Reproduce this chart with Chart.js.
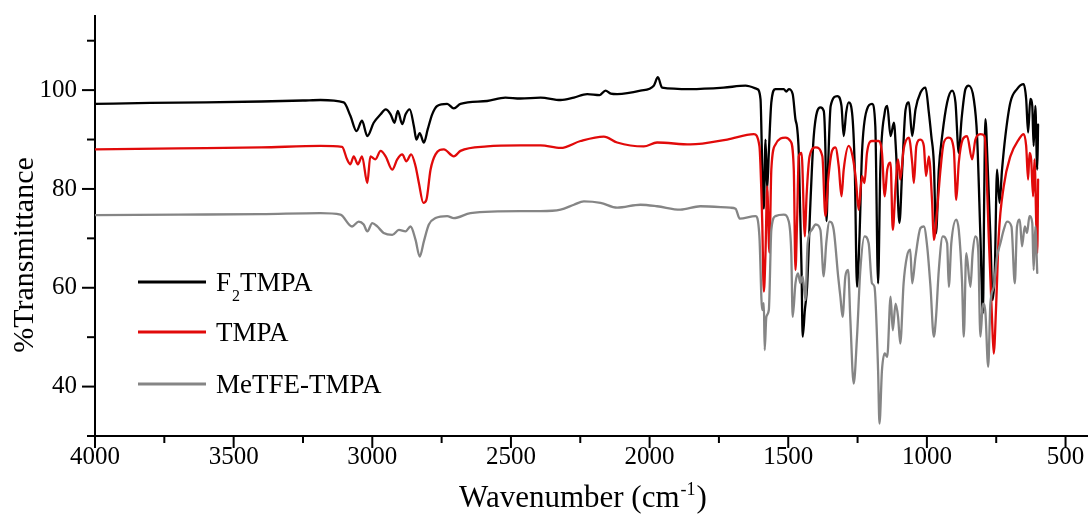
<!DOCTYPE html>
<html><head><meta charset="utf-8">
<script src="https://cdn.jsdelivr.net/npm/chart.js@4/dist/chart.umd.min.js"></script>
<style>html,body{margin:0;padding:0;background:#fff;}</style>
</head><body>
<canvas id="c" width="1088" height="519"></canvas>
<script>
// ---------------- data ----------------
const seriesLabels = ['F₂TMPA', 'TMPA', 'MeTFE-TMPA'];
const seriesColors = ['#000000', '#e10a0a', '#858585'];

const f2Wn = [4000,3800,3600,3400,3250,3187,3103,3079,3057,3037,3018,2995,2970,2952,2934,2920,2908,2892,2880,2865,2850,2841,2829,2814,2800,2784,2766,2730,2706,2682,2586,2520,2466,2393,2321,2273,2225,2180,2159,2140,2117,2033,1985,1970,1955,1853,1733,1654,1612,1600,1594,1588,1582,1576,1570,1561,1546,1516,1507,1498,1484,1474,1468,1462,1452,1448,1440,1432,1420,1408,1384,1372,1366,1362,1356,1347,1323,1308,1300,1291,1282,1270,1260,1252,1243,1234,1216,1198,1186,1176,1168,1152,1143,1131,1119,1111,1099,1089,1077,1065,1053,1041,1023,1005,993,984,975,967,957,945,927,909,897,885,875,861,849,831,819,807,798,793,789,781,771,763,755,747,738,729,717,699,675,651,642,635,627,620,615,609,602,599];
const f2T  = [97.2,97.4,97.5,97.7,97.9,98.0,97.5,94.8,91.7,93.8,90.7,93.4,95.1,96.1,95.1,93.4,95.8,93.1,95.1,96.1,92.7,90.0,91.3,89.4,92.1,95.1,96.8,97.2,96.3,97.2,97.8,98.5,98.3,98.5,98.0,98.5,99.2,99.0,99.9,99.3,99.2,99.9,100.9,102.6,100.5,100.2,100.5,100.9,100.2,98.2,85.0,76.0,90.0,80.0,87.4,97.5,100.2,100.2,99.7,100.2,99.2,94.1,92.4,87.3,63.6,50.1,55.5,60.2,77.2,90.7,96.5,95.8,88.0,73.5,85.0,96.8,98.8,96.8,90.7,95.5,97.5,95.5,83.9,60.2,70.4,87.3,96.1,97.2,92.7,60.9,83.9,95.5,96.8,90.7,93.4,87.3,73.1,83.9,96.0,97.5,90.7,96.1,99.5,100.5,95.5,90.7,85.3,71.0,83.9,90.7,97.5,99.9,97.5,87.3,94.1,100.2,100.9,98.2,90.7,70.4,54.8,80.0,94.1,85.0,70.4,57.5,63.6,83.9,77.2,83.9,90.7,97.5,100.2,101.2,98.2,91.4,98.2,96.8,88.7,96.8,83.9,93.0];

const tmpaWn = [4000,3700,3400,3187,3109,3091,3079,3067,3052,3037,3018,3007,2989,2970,2952,2928,2910,2892,2877,2860,2844,2832,2816,2805,2790,2772,2742,2706,2682,2586,2466,2393,2321,2249,2165,2117,2021,1973,1853,1720,1624,1604,1594,1588,1582,1576,1568,1561,1546,1510,1492,1480,1474,1468,1462,1452,1440,1434,1423,1401,1377,1366,1356,1342,1330,1318,1308,1300,1282,1268,1256,1246,1234,1225,1216,1198,1174,1162,1152,1143,1131,1123,1113,1104,1096,1084,1065,1053,1047,1038,1023,1011,1003,993,981,975,963,951,939,921,903,894,885,871,855,837,825,807,792,783,777,765,759,750,741,723,699,669,651,642,635,630,624,617,612,602,599];
const tmpaT  = [88.0,88.2,88.4,88.7,88.5,86.0,85.0,86.6,85.0,86.6,81.2,86.6,86.0,87.7,86.6,83.9,86.0,87.0,85.6,87.0,84.6,81.2,77.2,77.8,83.9,87.0,88.0,86.6,87.7,88.6,88.8,88.8,88.3,89.7,90.6,89.4,88.6,89.4,89.0,90.0,91.1,88.7,73.8,59.2,67.1,80.5,67.1,83.9,89.0,90.4,89.7,83.9,63.6,73.8,86.6,87.3,70.4,78.5,86.6,88.4,86.6,74.5,81.9,87.7,88.4,84.6,78.5,83.9,88.7,86.6,81.9,75.8,82.6,81.2,87.3,89.7,89.7,87.3,78.5,83.9,85.3,71.7,80.5,86.0,81.9,88.0,90.4,85.3,81.2,88.7,90.0,88.7,82.6,86.6,77.2,69.7,75.8,83.9,89.4,90.4,88.0,77.8,85.3,90.0,90.7,86.0,90.0,91.1,90.7,80.5,70.4,53.5,46.7,56.8,70.4,80.5,86.6,90.0,91.1,88.7,81.9,87.3,86.0,78.5,86.0,67.0,81.9];

const meWn = [4000,3700,3400,3187,3115,3073,3049,3031,3018,3000,2982,2959,2928,2904,2880,2862,2844,2829,2814,2796,2772,2730,2706,2646,2466,2393,2321,2273,2237,2177,2117,2033,1973,1889,1817,1709,1690,1675,1618,1604,1594,1588,1585,1579,1570,1561,1546,1516,1498,1489,1484,1474,1465,1456,1448,1438,1430,1415,1401,1384,1372,1363,1351,1336,1320,1312,1304,1294,1284,1276,1264,1252,1240,1225,1210,1198,1189,1176,1171,1162,1152,1143,1131,1123,1113,1104,1096,1084,1072,1060,1053,1041,1023,1011,999,987,975,967,957,943,927,921,912,894,885,873,867,858,843,835,825,815,807,798,789,779,771,759,747,735,723,711,695,683,675,665,657,647,639,630,620,615,609,602];
const meT  = [74.7,74.8,74.9,75.1,74.8,72.4,73.4,72.8,71.4,73.1,72.4,71.1,70.7,71.7,71.4,72.4,69.7,66.3,69.4,72.8,74.1,74.5,74.1,75.1,75.5,75.5,75.8,76.8,77.5,77.2,76.2,76.8,76.5,75.8,76.5,76.2,76.0,74.0,74.5,70.4,55.5,56.9,47.4,54.1,55.5,71.7,74.5,74.8,73.4,67.0,54.1,60.9,62.9,60.9,62.3,57.5,69.0,71.7,72.8,71.7,62.3,69.0,73.4,71.7,62.3,58.2,54.1,62.3,63.6,53.5,40.6,50.1,63.6,70.4,69.0,60.9,60.2,43.3,32.5,43.3,46.7,46.0,58.2,51.4,56.8,54.1,48.7,60.9,66.3,67.7,60.9,66.3,72.1,72.4,68.4,60.2,50.1,54.1,63.6,70.4,69.0,60.2,69.0,73.8,71.7,60.9,50.1,67.0,60.2,67.0,70.4,67.7,50.1,56.8,55.0,44.0,56.8,60.2,66.3,69.0,71.7,73.4,72.4,60.9,72.4,73.8,68.4,72.4,71.1,74.5,73.1,63.6,72.4,63.0];

const xMajorTicks = [4000,3500,3000,2500,2000,1500,1000,500];
const xMinorTicks = [3750,3250,2750,2250,1750,1250,750];
const yMajorTicks = [40,60,80,100];
const yMinorTicks = [30,50,70,90,110];
const xRange = [419, 4000];
const yRange = [30, 115];
const xTitleParts = ['Wavenumber (cm', '-1', ')'];
const yTitle = '%Transmittance';

// ---------------- chart ----------------
const FONT = '"Liberation Serif", "Times New Roman", serif';
const toPts = (w, t) => w.map((v, i) => ({x: v, y: t[i]}));

const decor = {
  id: 'decor',
  afterDraw(chart) {
    const {ctx, scales: {x, y}} = chart;
    ctx.save();
    ctx.strokeStyle = '#000';
    ctx.lineWidth = 2;
    const xb = y.bottom;
    const tick = (x1, y1, x2, y2) => { ctx.beginPath(); ctx.moveTo(x1, y1); ctx.lineTo(x2, y2); ctx.stroke(); };
    xMajorTicks.forEach(v => { const p = x.getPixelForValue(v); tick(p, xb, p, xb + 12); });
    xMinorTicks.forEach(v => { const p = x.getPixelForValue(v); tick(p, xb, p, xb + 7); });
    const yl = x.left;
    yMajorTicks.forEach(v => { const p = y.getPixelForValue(v); tick(yl, p, yl - 13, p); });
    yMinorTicks.forEach(v => { const p = y.getPixelForValue(v); tick(yl, p, yl - 8, p); });

    // axis titles
    ctx.fillStyle = '#000';
    ctx.textBaseline = 'alphabetic';
    const titleFont = '31px ' + FONT;
    const supFont = '18px ' + FONT;
    ctx.font = titleFont;
    const w0 = ctx.measureText(xTitleParts[0]).width;
    const w2 = ctx.measureText(xTitleParts[2]).width;
    ctx.font = supFont;
    const w1 = ctx.measureText(xTitleParts[1]).width;
    let tx = 583 - (w0 + w1 + w2 + 2) / 2;
    const ty = 507;
    ctx.font = titleFont; ctx.textAlign = 'left';
    ctx.fillText(xTitleParts[0], tx, ty); tx += w0 + 1;
    ctx.font = supFont; ctx.fillText(xTitleParts[1], tx, ty - 12); tx += w1 + 1;
    ctx.font = titleFont; ctx.fillText(xTitleParts[2], tx, ty);

    ctx.save();
    ctx.translate(33, 255);
    ctx.rotate(-Math.PI / 2);
    ctx.textAlign = 'center';
    ctx.font = '30px ' + FONT;
    ctx.fillText(yTitle, 0, 0);
    ctx.restore();

    // legend
    const rows = [282, 332, 384];
    chart.data.datasets.forEach((ds, i) => {
      const ly = rows[i];
      ctx.strokeStyle = ds.borderColor;
      ctx.lineWidth = 3;
      tick(138, ly, 206, ly);
      ctx.fillStyle = '#000';
      const base = ly + 9;
      let lx = 216;
      const txt = ds.label;
      const idx = txt.indexOf('₂');
      ctx.textAlign = 'left';
      const lf = '27px ' + FONT;
      if (idx >= 0) {
        ctx.font = lf;
        const a = txt.slice(0, idx), b = txt.slice(idx + 1);
        ctx.fillText(a, lx, base); lx += ctx.measureText(a).width + 1;
        ctx.font = '16px ' + FONT;
        ctx.fillText('2', lx, base + 10); lx += ctx.measureText('2').width;
        ctx.font = lf;
        ctx.fillText(b, lx, base);
      } else {
        ctx.font = lf;
        ctx.fillText(txt, lx, base);
      }
    });
    ctx.restore();
  }
};

new Chart(document.getElementById('c'), {
  type: 'line',
  data: {
    datasets: [
      {label: seriesLabels[0], data: toPts(f2Wn, f2T), borderColor: seriesColors[0], order: 2},
      {label: seriesLabels[1], data: toPts(tmpaWn, tmpaT), borderColor: seriesColors[1], order: 1},
      {label: seriesLabels[2], data: toPts(meWn, meT), borderColor: seriesColors[2], order: 0}
    ]
  },
  options: {
    responsive: false,
    animation: false,
    layout: {padding: {top: 16, right: 0, left: 0, bottom: 0}},
    elements: {
      line: {borderWidth: 2.3, cubicInterpolationMode: 'monotone', borderJoinStyle: 'round', borderCapStyle: 'round'},
      point: {radius: 0, hoverRadius: 0}
    },
    plugins: {legend: {display: false}, tooltip: {enabled: false}},
    scales: {
      x: {
        type: 'linear', reverse: true, min: xRange[0], max: xRange[1],
        grid: {display: false, drawTicks: false},
        border: {display: true, color: '#000', width: 2},
        afterBuildTicks: s => { s.ticks = xMajorTicks.slice().reverse().map(v => ({value: v})); },
        afterFit: s => { s.height = 83; s.paddingLeft = 0; s.paddingRight = 0; },
        ticks: {color: '#000', padding: 6, autoSkip: false, maxRotation: 0, font: {family: FONT, size: 25}, callback: v => String(v)}
      },
      y: {
        type: 'linear', min: yRange[0], max: yRange[1],
        grid: {display: false, drawTicks: false},
        border: {display: true, color: '#000', width: 2},
        afterBuildTicks: s => { s.ticks = yMajorTicks.map(v => ({value: v})); },
        afterFit: s => { s.width = 95; s.paddingTop = 0; s.paddingBottom = 0; },
        ticks: {color: '#000', padding: 18, font: {family: FONT, size: 25}, callback: v => String(v)}
      }
    }
  },
  plugins: [decor]
});
</script>
</body></html>
